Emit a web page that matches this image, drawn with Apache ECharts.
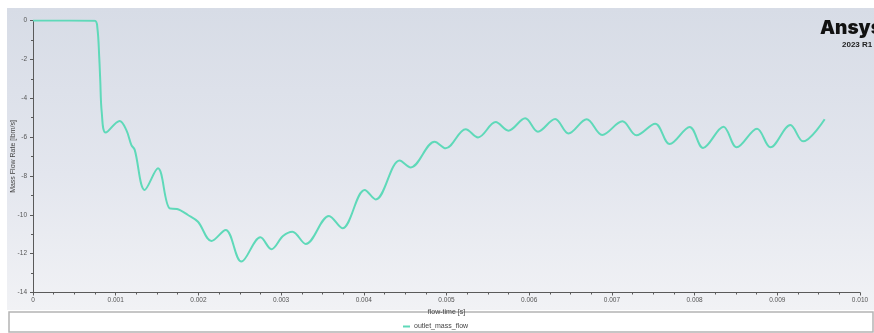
<!DOCTYPE html>
<html>
<head>
<meta charset="utf-8">
<script src="https://cdn.jsdelivr.net/npm/echarts@6/dist/echarts.min.js"></script>
<style>
  html, body { margin: 0; padding: 0; background: #ffffff; }
  #chart { width: 874px; height: 333px; }
</style>
</head>
<body>
<div id="chart"></div>
<script>
// Flow time [s] of each monitor sample
const flowTime = [
  0, 0.000746, 0.000779, 0.000801, 0.000813, 0.000831, 0.000879,
  0.001048, 0.001129, 0.001190, 0.001230, 0.001351, 0.001511,
  0.001653, 0.001741, 0.001874, 0.001995, 0.002157, 0.002330,
  0.002520, 0.002750, 0.002883, 0.003023, 0.003137, 0.003298,
  0.003579, 0.003741, 0.004011, 0.004144, 0.004434, 0.004567,
  0.004857, 0.004990, 0.005232, 0.005381, 0.005595, 0.005748,
  0.005952, 0.006106, 0.006314, 0.006475, 0.006695, 0.006883,
  0.007127, 0.007296, 0.007524, 0.007699, 0.007941, 0.008102,
  0.008349, 0.008509, 0.008755, 0.008917, 0.009158, 0.009311,
  0.009573
];
// Outlet mass flow rate [lbm/s]
const outletMassFlow = [
  0, -0.01, -0.40, -1.90, -3.06, -4.71, -5.77,
  -5.17, -5.64, -6.41, -6.66, -8.72, -7.61,
  -9.67, -9.70, -10.01, -10.36, -11.35, -10.78,
  -12.41, -11.16, -11.77, -11.09, -10.87, -11.50,
  -10.06, -10.69, -8.72, -9.21, -7.21, -7.56,
  -6.24, -6.58, -5.60, -6.02, -5.23, -5.67,
  -5.03, -5.72, -5.07, -5.81, -5.08, -5.89,
  -5.19, -5.91, -5.31, -6.36, -5.48, -6.56,
  -5.47, -6.53, -5.57, -6.53, -5.38, -6.22,
  -5.08
];
const xTickLabels = ['0', '0.001', '0.002', '0.003', '0.004', '0.005',
                     '0.006', '0.007', '0.008', '0.009', '0.010'];
const yTickLabels = ['-14', '-12', '-10', '-8', '-6', '-4', '-2', '0'];
const seriesName = 'outlet_mass_flow';

const points = flowTime.map((t, i) => [t, outletMassFlow[i]]);
const axisGray = '#5a5a5a';
const labelFont = '"Liberation Sans", Arial, sans-serif';

const chart = echarts.init(document.getElementById('chart'), null, { renderer: 'canvas' });
chart.setOption({
  animation: false,
  backgroundColor: '#ffffff',
  graphic: [
    {
      type: 'rect', z: -10, silent: true,
      shape: { x: 7, y: 8, width: 867, height: 302 },
      style: {
        fill: new echarts.graphic.LinearGradient(0, 0, 0, 1, [
          { offset: 0, color: '#d7dce6' },
          { offset: 0.55, color: '#e3e6ee' },
          { offset: 1, color: '#f1f2f5' }
        ])
      }
    },
    {
      type: 'rect', z: -5, silent: true,
      shape: { x: 9, y: 312, width: 864, height: 20 },
      style: { fill: '#ffffff', stroke: '#b4b4b4', lineWidth: 1.5 }
    },
    {
      type: 'text', left: 820, top: 19, z: 10,
      style: { text: 'Ansys', font: '900 19px Inter, "DejaVu Sans", sans-serif', fill: '#111111' }
    },
    {
      type: 'text', left: 842, top: 41, z: 10,
      style: { text: '2023 R1', font: 'bold 8px "Liberation Sans", Arial, sans-serif', fill: '#222222' }
    }
  ],
  grid: {
    left: 33, right: 14, top: 20.5, bottom: 40.5,
    containLabel: false, outerBoundsMode: 'none'
  },
  legend: {
    left: 398, top: 318,
    itemWidth: 7, itemHeight: 2, itemGap: 4,
    icon: 'rect',
    textStyle: { fontSize: 7, color: '#444', fontFamily: labelFont, padding: [0, 0, 0, -1] },
    data: [seriesName]
  },
  xAxis: {
    type: 'value', min: 0, max: 0.01, interval: 0.001,
    name: 'flow-time [s]', nameLocation: 'middle', nameGap: 14,
    nameTextStyle: { fontSize: 7, color: '#444', fontFamily: labelFont },
    axisLine: { show: true, onZero: false, lineStyle: { color: axisGray, width: 1 } },
    axisTick: { show: true, length: 3, lineStyle: { color: axisGray } },
    minorTick: { show: true, splitNumber: 4, length: 2, lineStyle: { color: axisGray } },
    splitLine: { show: false },
    axisLabel: {
      fontSize: 6.5, color: '#555', fontFamily: labelFont, margin: 4,
      formatter: (v) => xTickLabels[Math.round(v / 0.001)]
    }
  },
  yAxis: {
    type: 'value', min: -14, max: 0, interval: 2,
    name: 'Mass Flow Rate [lbm/s]', nameLocation: 'middle', nameGap: 16, nameRotate: 90,
    nameMoveOverlap: false,
    nameTextStyle: { fontSize: 7, color: '#444', fontFamily: labelFont },
    axisLine: { show: true, onZero: false, lineStyle: { color: axisGray, width: 1 } },
    axisTick: { show: true, length: 3, lineStyle: { color: axisGray } },
    minorTick: { show: true, splitNumber: 2, length: 2, lineStyle: { color: axisGray } },
    splitLine: { show: false },
    axisLabel: {
      fontSize: 6.5, color: '#555', fontFamily: labelFont, margin: 6,
      formatter: (v) => yTickLabels[Math.round((v + 14) / 2)]
    }
  },
  series: [{
    name: seriesName,
    type: 'line',
    data: points,
    smooth: 0.35,
    showSymbol: false,
    lineStyle: { color: '#5fd9b9', width: 2 },
    itemStyle: { color: '#5fd9b9' }
  }]
});
</script>
</body>
</html>
